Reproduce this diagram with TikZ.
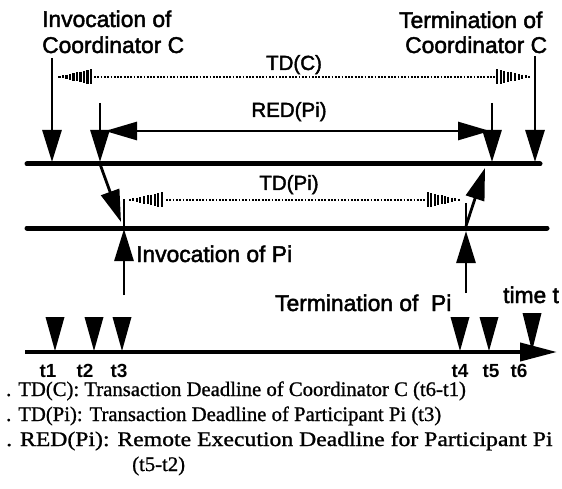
\documentclass[tikz,border=0pt]{standalone}
\usepackage{fontspec}
\usepackage{graphicx}
\setmainfont{Liberation Serif}
\setsansfont{Liberation Sans}
\newfontfamily\labelfont{Liberation Sans}[FakeBold=2]
\newfontfamily\tickfont{Liberation Sans Bold}
\newfontfamily\notefont{Liberation Serif}[FakeBold=1]
\usetikzlibrary{arrows.meta}

% striped arrow head: tip x, base x, y, largest half height
\newcommand\hatchhead[4]{%
  \foreach \k in {1,...,10}{%
    \pgfmathsetmacro\hx{#1+(#2-#1)*\k/10}%
    \pgfmathsetmacro\hh{max(1.1,#4*(\k/10))}%
    \draw[line width=2.1pt] (\hx,#3-\hh) -- (\hx,#3+\hh);
  }}

\tikzset{
  shaft/.style={line width=2.8pt, -{Triangle[length=32pt,width=19pt]}},
  twoway/.style={line width=2.8pt, {Triangle[length=32pt,width=18pt]}-{Triangle[length=32pt,width=18pt]}},
  stopbar/.style={line width=1.6pt},
  track/.style={line width=5pt, line cap=round},
  dotline/.style={line width=2.5pt, dash pattern=on 1.8pt off 1.5pt},
  lbl/.style={font=\labelfont\fontsize{22.8}{26}\selectfont, inner sep=0pt},
  midlbl/.style={font=\labelfont\fontsize{20.5}{24}\selectfont, inner sep=0pt, anchor=base},
  ticklbl/.style={font=\tickfont\fontsize{19}{21}\selectfont, inner sep=0pt, anchor=base},
  legend/.style={font=\notefont\fontsize{20.7}{25}\selectfont, inner sep=0pt, anchor=base west},
}

\begin{document}
\begin{tikzpicture}[x=1pt,y=-1pt]
\useasboundingbox (0,0) rectangle (562,489);

% event points
\coordinate (cInvTop) at (52,58);   \coordinate (cInv) at (52,162);
\coordinate (cEndTop) at (535,56);  \coordinate (cEnd) at (535,162);
\coordinate (sendTop) at (100,103); \coordinate (send) at (100,162);
\coordinate (recvTop) at (492,103); \coordinate (recv) at (492,162);
\coordinate (redL) at (105,131);    \coordinate (redR) at (490,131);
\coordinate (send0) at (100,164);   \coordinate (pArr) at (121,222);
\coordinate (pInvBot) at (124,295); \coordinate (pInv) at (124,229); \coordinate (pInvMark) at (124,199);
\coordinate (pEndBot) at (466,293); \coordinate (pEnd) at (466,231); \coordinate (pEndMark) at (466,203);
\coordinate (pEnd0) at (466,226);   \coordinate (cArr) at (485,168);
\coordinate (axL) at (25,352);      \coordinate (axR) at (557,352);

% coordinator and participant time lines
\draw[track] (27,164) -- (540,164);
\draw[track] (27,228) -- (547,228);

% coordinator invocation / termination
\draw[shaft] (cInvTop) -- (cInv);
\draw[shaft] (cEndTop) -- (cEnd);
\draw[shaft] (sendTop) -- (send);
\draw[shaft] (recvTop) -- (recv);

% remote execution deadline
\draw[twoway] (redL) -- (redR);

% messages between coordinator and participant
\draw[shaft] (send0) -- (pArr);
\draw[shaft] (pInvBot) -- (pInv);
\draw[stopbar] (pInv) -- (pInvMark);
\draw[shaft] (pEndBot) -- (pEnd);
\draw[stopbar] (466,228) -- (pEndMark);
\draw[shaft] (pEnd0) -- (cArr);

% deadlines (dotted, with striped heads)
\draw[dotline] (94,77) -- (495,77);
\hatchhead{56}{91}{77}{7.5}
\hatchhead{533}{497}{77}{7.5}
\draw[dotline] (166,200) -- (425,200);
\hatchhead{126}{162}{200}{7.5}
\hatchhead{462}{428}{200}{7.5}

% time axis with instants
\draw[line width=4pt, -{Triangle[length=37pt,width=18pt]}] (axL) -- (axR);
\foreach \x in {55,94,122,460,489}{
  \fill (\x-9.5,317) -- (\x+9.5,317) -- (\x,351) -- cycle;
}
\fill (522.5,313) -- (541.5,313) -- (532,351) -- cycle;

% labels
\node[lbl, anchor=base west] (invC1) at (42,27) {Invocation of};
\node[lbl, anchor=base west] (invC2) at (42,53) {Coordinator C};
\node[lbl, anchor=base west] (endC1) at (399,28) {Termination of};
\node[lbl, anchor=base west] (endC2) at (405,53) {Coordinator C};
\node[midlbl] (tdc) at (294,70) {TD(C)};
\node[midlbl] (red) at (289,117) {RED(Pi)};
\node[midlbl] (tdp) at (289,190) {TD(Pi)};
\node[lbl, anchor=base west] (invP) at (136,262) {Invocation of Pi};
\node[lbl, anchor=base west] (endP) at (275,311) {Termination of\ \ Pi};
\node[lbl, anchor=base west] (time) at (503,303) {time t};

\node[ticklbl] (t1) at (48,377) {t1};
\node[ticklbl] (t2) at (85,377) {t2};
\node[ticklbl] (t3) at (119,377) {t3};
\node[ticklbl] (t4) at (460,377) {t4};
\node[ticklbl] (t5) at (491,377) {t5};
\node[ticklbl] (t6) at (519,377) {t6};

% legend
\node[legend] (l1) at (6,396) {. TD(C): Transaction Deadline of Coordinator C (t6-t1)};
\node[legend] (l2) at (6,421) {. TD(Pi): Transaction Deadline of Participant Pi (t3)};
\node[legend] (l3) at (6,446) {\scalebox{1.145}[1]{. RED(Pi): Remote Execution Deadline for Participant Pi}};
\node[legend] (l4) at (132,471) {(t5-t2)};
\end{tikzpicture}
\end{document}
